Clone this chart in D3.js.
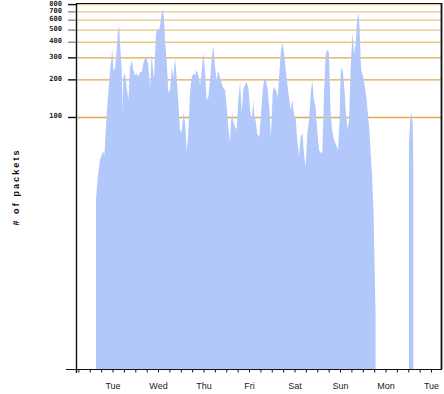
<!DOCTYPE html>
<html>
<head>
<meta charset="utf-8">
<script src="https://cdn.jsdelivr.net/npm/d3@7"></script>
<style>
  body { margin: 0; background: #fff; }
  svg { display: block; }
</style>
</head>
<body>
<div class="packets-graphic"></div>
<script>

////////// DATA //////////

var dayLabels = ["Tue", "Wed", "Thu", "Fri", "Sat", "Sun", "Mon", "Tue"];
var yTicks = [100, 200, 300, 400, 500, 600, 700, 800];
var darkTicks = [100, 200, 300, 800];

// hours since Monday 05:00, and packet counts (null = no data)
var hours = [
  10.0, 10.6, 11.2, 12.1, 13.0, 13.9, 14.4, 15.3, 15.7, 16.5, 17.4, 18.3, 18.6, 19.2, 20.1, 20.9,
  21.5, 22.2, 22.7, 23.6, 24.1, 24.4, 25.3, 26.2, 27.1, 28.0, 28.9, 29.7, 30.6, 31.5, 32.3, 33.2,
  34.1, 35.0, 35.9, 36.8, 37.6, 38.5, 39.4, 39.9, 40.6, 41.7, 42.4, 43.4, 44.2, 45.0, 45.9, 46.4,
  47.3, 48.2, 49.1, 50.0, 50.8, 51.7, 52.6, 53.4, 54.3, 55.2, 56.1, 57.0, 57.9, 58.7, 59.6, 60.5,
  61.4, 62.3, 63.1, 64.0, 64.9, 65.8, 66.6, 67.5, 68.4, 69.3, 70.2, 71.1, 71.9, 72.8, 73.7, 74.5,
  75.4, 76.3, 77.2, 78.1, 79.0, 79.8, 80.7, 81.2, 81.9, 82.5, 83.4, 84.2, 85.1, 86.0, 86.9, 87.7,
  88.6, 89.5, 90.4, 91.3, 92.2, 93.0, 93.5, 94.4, 95.1, 96.2, 97.1, 98.0, 98.8, 99.7, 100.6, 101.4,
  102.3, 103.2, 103.9, 105.0, 105.9, 106.7, 107.6, 108.3, 109.2, 110.1, 110.9, 111.8, 112.7, 113.6, 114.5, 115.4,
  116.2, 117.1, 118.0, 118.9, 119.7, 120.6, 121.5, 122.4, 123.3, 124.1, 125.0, 125.9, 126.8, 127.7, 128.6, 129.4,
  130.3, 131.2, 132.0, 132.9, 133.7, 134.5, 135.6, 136.6, 137.7, 138.5, 139.0, 139.6, 140.3, 141.1, 141.9, 142.7,
  143.5, 144.3, 145.1, 145.4, 146.1, 146.9, 147.7, 148.4, 149.0, 149.3, 149.8, 150.2, 151.0, 151.9, 152.8, 153.7,
  154.2, 154.8, 155.6, 156.4, 156.9, 157.5, 158.0,
  175.1, 175.8, 176.4, 177.1, 177.4
];
var packets = [
  22, 29, 36, 46, 50, 54, 49, 84, 109, 157, 231, 315, 358, 239, 248, 345,
  471, 545, 392, 239, 109, 210, 226, 175, 138, 253, 287, 239, 218, 226, 210, 231,
  231, 272, 298, 298, 262, 172, 326, 253, 207, 471, 516, 498, 598, 745, 631, 414,
  287, 157, 166, 253, 207, 298, 210, 138, 80, 75, 109, 91, 53, 75, 157, 210,
  226, 218, 239, 218, 182, 239, 326, 239, 138, 146, 199, 303, 378, 253, 199, 239,
  210, 188, 172, 166, 121, 84, 63, 92, 109, 91, 84, 80, 138, 192, 109, 166,
  182, 192, 172, 115, 96, 138, 105, 91, 73, 70, 109, 166, 207, 199, 166, 121,
  70, 157, 175, 166, 146, 226, 345, 399, 326, 239, 188, 146, 115, 138, 105, 96,
  66, 49, 70, 75, 52, 40, 75, 96, 157, 199, 138, 121, 75, 55, 52, 53,
  157, 326, 345, 333, 115, 80, 66, 61, 55, 96, 218, 253, 231, 166, 105, 80,
  96, 239, 414, 471, 326, 378, 598, 692, 545, 414, 253, 231, 210, 175, 138, 96,
  80, 55, 35, 18, 7.4, 2.5, null,
  60, 100, 108, 90, 40
];


////////// SETUP //////////

var width = 444, height = 394;
var plot = { left: 77, right: 441, top: 4, bottom: 369 };

var startTime = Date.UTC(2024, 0, 1, 5);   // Monday 05:00
var endTime = Date.UTC(2024, 0, 9, 5);     // next Tuesday 05:00
var hourMs = 3600 * 1000;

var data = hours.map(function(h, i) {
  return { t: new Date(startTime + h * hourMs), v: packets[i] };
});

var x = d3.scaleUtc()
    .domain([new Date(startTime), new Date(endTime)])
    .range([plot.left, plot.right]);

var y = d3.scaleLog()
    .domain([1, 800])
    .range([367.5, 4.6]);

var svg = d3.select(".packets-graphic")
  .append("svg")
    .attr("width", width)
    .attr("height", height)
    .style("font-family", "'Liberation Sans', Arial, sans-serif");


////////// GRID //////////

svg.append("g")
    .attr("class", "grid")
  .selectAll("line")
    .data(yTicks)
    .enter()
    .append("line")
    .attr("x1", plot.left)
    .attr("x2", plot.right)
    .attr("y1", function(d) { return y(d); })
    .attr("y2", function(d) { return y(d); })
    .style("stroke", function(d) { return d <= 300 ? "#e2a94f" : "#ebc583"; })
    .style("stroke-width", 1.3);


////////// AREA //////////

var area = d3.area()
    .defined(function(d) { return d.v != null; })
    .x(function(d) { return x(d.t); })
    .y0(plot.bottom)
    .y1(function(d) { return y(d.v); });

svg.append("path")
    .datum(data)
    .attr("d", area)
    .style("fill", "#b3c8fa")
    .style("stroke", "none");


////////// FRAME + AXES //////////

var frame = svg.append("g").attr("class", "frame").style("stroke", "#111");

// top and right borders
frame.append("line")
    .attr("x1", plot.left).attr("x2", plot.right + 1)
    .attr("y1", 3.5).attr("y2", 3.5)
    .style("stroke-width", 1.2);
frame.append("line")
    .attr("x1", plot.right + 0.5).attr("x2", plot.right + 0.5)
    .attr("y1", 3).attr("y2", plot.bottom)
    .style("stroke-width", 1.8);

// left axis line, runs a little below the x axis
frame.append("line")
    .attr("x1", plot.left - 0.5).attr("x2", plot.left - 0.5)
    .attr("y1", 3).attr("y2", plot.bottom + 4)
    .style("stroke-width", 1.4);

// bottom axis line, runs a little left of the y axis
frame.append("line")
    .attr("x1", 66).attr("x2", plot.right + 1)
    .attr("y1", plot.bottom + 0.5).attr("y2", plot.bottom + 0.5)
    .style("stroke-width", 1.2);

// y ticks
svg.append("g")
    .attr("class", "y-ticks")
  .selectAll("line")
    .data(yTicks)
    .enter()
    .append("line")
    .attr("x1", 68)
    .attr("x2", plot.left - 1)
    .attr("y1", function(d) { return y(d); })
    .attr("y2", function(d) { return y(d); })
    .style("stroke", function(d) { return darkTicks.indexOf(d) >= 0 ? "#111" : "#8a8a8a"; })
    .style("stroke-width", 1.4);

svg.append("g")
    .attr("class", "y-labels")
  .selectAll("text")
    .data(yTicks)
    .enter()
    .append("text")
    .attr("x", 62)
    .attr("y", function(d) { return y(d) + 1; })
    .attr("text-anchor", "end")
    .style("font-family", "'DejaVu Sans Mono', monospace")
    .style("font-weight", "bold")
    .style("font-size", "7px")
    .style("fill", "#222")
    .text(function(d) { return d; });

// x ticks: every 6 hours, tall one each day
var xTicks = d3.utcHour.every(6).range(new Date(startTime), new Date(endTime + 1));

svg.append("g")
    .attr("class", "x-ticks")
  .selectAll("line")
    .data(xTicks)
    .enter()
    .append("line")
    .attr("x1", function(d) { return x(d); })
    .attr("x2", function(d) { return x(d); })
    .attr("y1", plot.bottom)
    .attr("y2", function(d) { return d.getUTCHours() === 5 ? plot.bottom + 6 : plot.bottom + 3.5; })
    .style("stroke", "#111")
    .style("stroke-width", 1);

// day labels at midnight
var labelDays = d3.utcDay.range(new Date(startTime), new Date(endTime));

svg.append("g")
    .attr("class", "x-labels")
  .selectAll("text")
    .data(labelDays)
    .enter()
    .append("text")
    .attr("x", function(d) { return x(d); })
    .attr("y", 388.5)
    .attr("text-anchor", "middle")
    .style("font-size", "9px")
    .style("fill", "#222")
    .text(function(d, i) { return dayLabels[i]; });

// y axis title
svg.append("text")
    .attr("transform", "translate(19,187) rotate(-90)")
    .attr("text-anchor", "middle")
    .style("font-size", "9px")
    .style("font-weight", "bold")
    .style("letter-spacing", "2.1px")
    .style("fill", "#111")
    .text("# of packets");

</script>
</body>
</html>
